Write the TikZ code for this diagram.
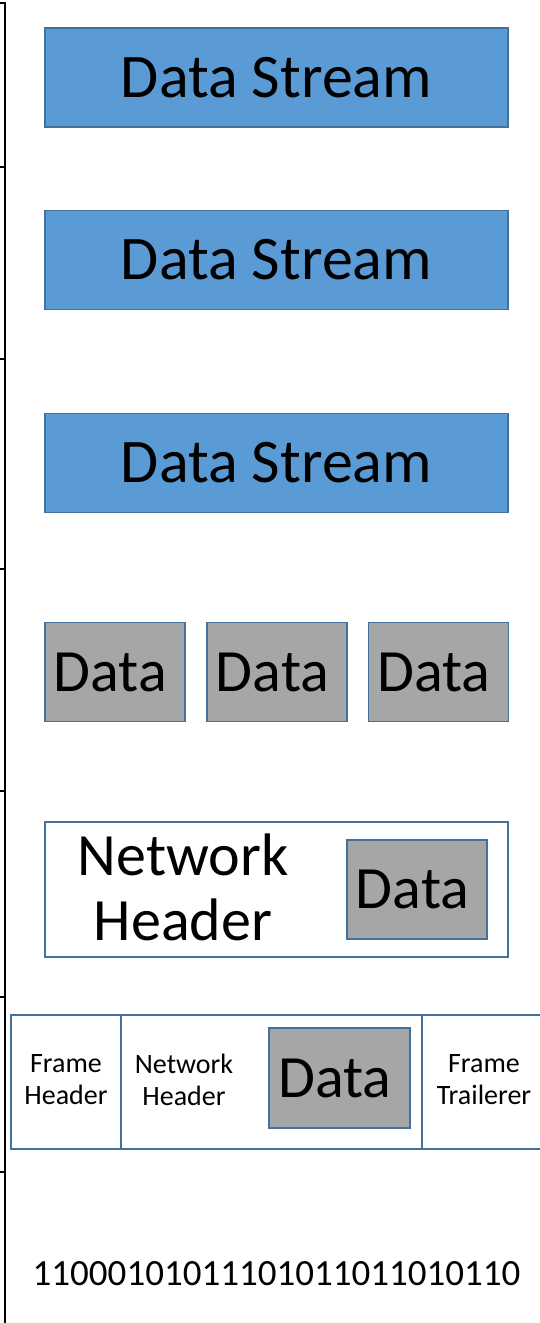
\documentclass[tikz,border=0pt]{standalone}
\usepackage{fontspec}
\setmainfont{Carlito}
\begin{document}
\begin{tikzpicture}[x=1pt,y=-1pt,
  box/.style={draw=borderColor,line width=1.8pt,inner sep=0pt,outer sep=0pt},
  streambox/.style={box,fill=streamColor,minimum width=463pt,minimum height=99pt,font=\fontsize{62}{74}\selectfont},
  databox/.style={box,fill=dataColor,minimum width=140pt,minimum height=99pt,font=\fontsize{60}{72}\selectfont,
    execute at end node={\hspace*{9pt}}},
  plainbox/.style={box,fill=white},
  bigtext/.style={inner sep=0pt,outer sep=0pt,align=center,font=\fontsize{60}{65}\selectfont},
  smalltext/.style={inner sep=0pt,outer sep=0pt,align=center,font=\fontsize{28}{32}\selectfont}]
\definecolor{streamColor}{RGB}{91,155,213}
\definecolor{borderColor}{RGB}{65,113,156}
\definecolor{dataColor}{RGB}{166,166,166}
\path[use as bounding box,fill=white] (0,0) rectangle (540,1323);

% row rule on the left
\coordinate (top) at (5,3);
\coordinate (bottom) at (5,1323);
\draw[line width=2pt] (0,3) -- (top) -- (bottom);
\foreach \y in {167,359,569,791,997,1172}
  \draw[line width=2pt] (0,\y) -- (5,\y);

% data streams
\node[streambox] (stream1) at (276.5, 77.5) {Data Stream};
\node[streambox] (stream2) at (276.5,260.0) {Data Stream};
\node[streambox] (stream3) at (276.5,463.0) {Data Stream};

% segments
\node[databox] (seg1) at (115.0,672) {Data};
\node[databox] (seg2) at (277.0,672) {Data};
\node[databox] (seg3) at (438.5,672) {Data};

% packet
\node[plainbox,minimum width=463pt,minimum height=135pt] (packet) at (276.5,889.5) {};
\node[databox] (packetdata) at (417,889.5) {Data};
\node[bigtext] (packethdr) at (183,887) {Network\\Header};

% frame
\node[plainbox,minimum width=110pt,minimum height=134pt] (framehdr) at (66,1082) {};
\node[plainbox,minimum width=301pt,minimum height=134pt] (framenet) at (271.5,1082) {};
\node[plainbox,minimum width=120pt,minimum height=134pt] (frametrl) at (482,1082) {};
\node[smalltext] (framehdrtxt) at (66,1080) {Frame\\Header};
\node[smalltext] (framenettxt) at (184,1080) {Network\\Header};
\node[smalltext] (frametrltxt) at (484,1080) {Frame\\Trailerer};
\node[databox,minimum width=141pt,minimum height=100pt] (framedata) at (339.5,1078) {Data};

% bits
\node[inner sep=0pt,outer sep=0pt,anchor=base,font=\fontsize{37}{44}\selectfont] (bits) at (276.5,1285) {11000101011101011011010110};
\end{tikzpicture}
\end{document}
